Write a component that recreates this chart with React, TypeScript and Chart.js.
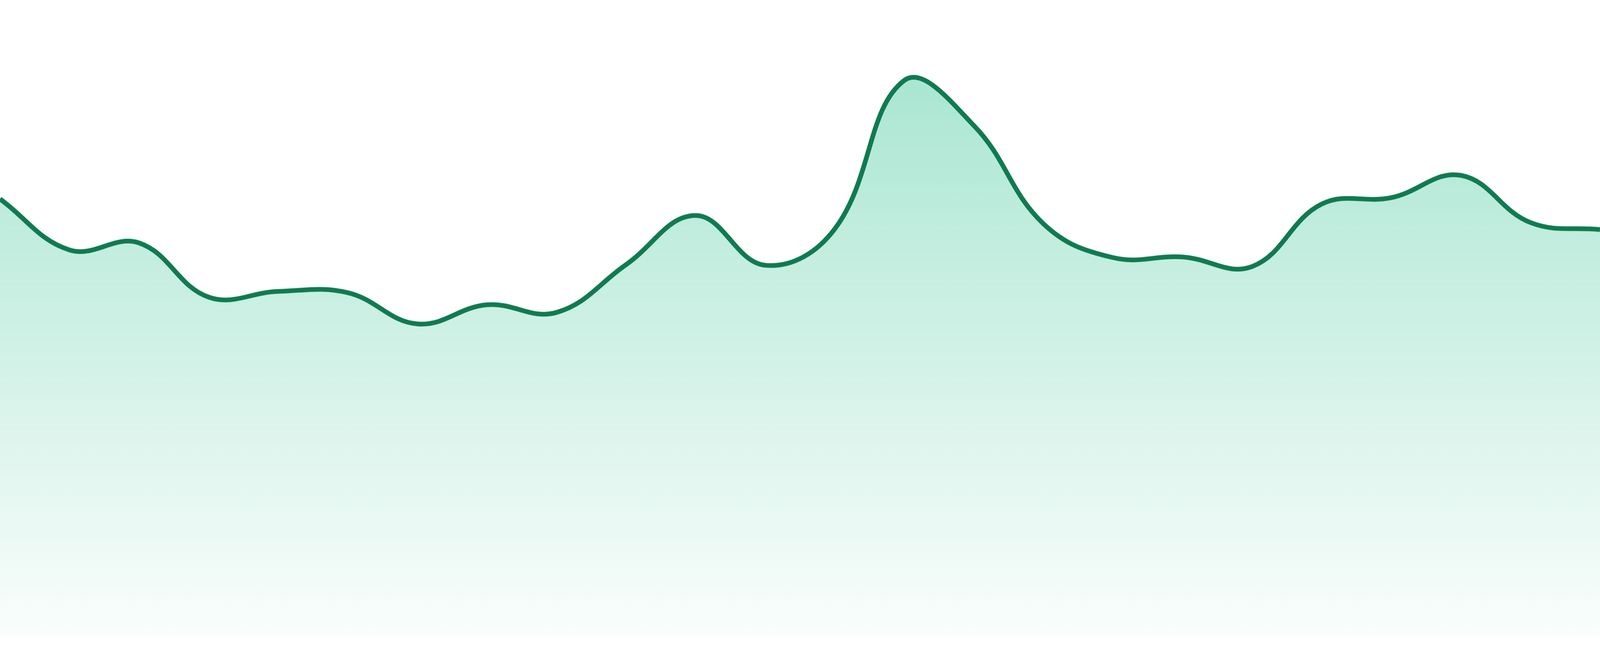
import React, { useEffect, useRef } from 'react';
import { Chart, registerables } from 'chart.js';

Chart.register(...registerables);

// 24 hourly samples
const labels: string[] = [
  '00:00', '01:00', '02:00', '03:00', '04:00', '05:00', '06:00', '07:00',
  '08:00', '09:00', '10:00', '11:00', '12:00', '13:00', '14:00', '15:00',
  '16:00', '17:00', '18:00', '19:00', '20:00', '21:00', '22:00', '23:00',
];

const values: number[] = [
  68.8, 60.8, 61.9, 53.4, 54.3, 54.1, 49.2, 52.2,
  51.0, 58.5, 66.2, 58.4, 64.1, 87.4, 80.3, 64.9,
  59.6, 59.7, 58.2, 68.0, 69.0, 72.5, 65.1, 64.0,
];

const yMin = 0;
const yMax = 100;

const lineColor = '#107a51';

const AreaChart: React.FC = () => {
  const chartRef = useRef<HTMLCanvasElement>(null);
  const chartInstance = useRef<Chart | null>(null);

  useEffect(() => {
    if (!chartRef.current) return;
    const ctx = chartRef.current.getContext('2d');
    if (!ctx) return;

    if (chartInstance.current) {
      chartInstance.current.destroy();
    }

    chartInstance.current = new Chart(ctx, {
      type: 'line',
      data: {
        labels,
        datasets: [
          {
            label: 'Value',
            data: values,
            borderColor: lineColor,
            borderWidth: 12,
            tension: 0.4,
            pointRadius: 0,
            fill: 'start',
            backgroundColor: (context: any) => {
              const { chart } = context;
              const area = chart.chartArea;
              if (!area) return 'rgba(16, 185, 129, 0.2)';
              // fades from light emerald at the top to almost white at the bottom
              const g = chart.ctx.createLinearGradient(0, area.top, 0, area.bottom);
              g.addColorStop(0, 'rgba(16, 185, 129, 0.4)');
              g.addColorStop(1, 'rgba(16, 185, 129, 0.02)');
              return g;
            },
          },
        ],
      },
      options: {
        responsive: true,
        maintainAspectRatio: false,
        animation: false,
        layout: { padding: 0, autoPadding: false },
        scales: {
          x: { display: false, offset: false },
          y: { display: false, min: yMin, max: yMax },
        },
        plugins: {
          legend: { display: false },
          tooltip: { enabled: false },
        },
      },
    });

    return () => {
      if (chartInstance.current) {
        chartInstance.current.destroy();
        chartInstance.current = null;
      }
    };
  }, []);

  // fill the viewport, leaving a thin white strip at the bottom
  return (
    <div style={{ position: 'fixed', top: 0, left: 0, width: '100vw', height: '97.14vh' }}>
      <canvas ref={chartRef} />
    </div>
  );
};

export default function App() {
  return <AreaChart />;
}
